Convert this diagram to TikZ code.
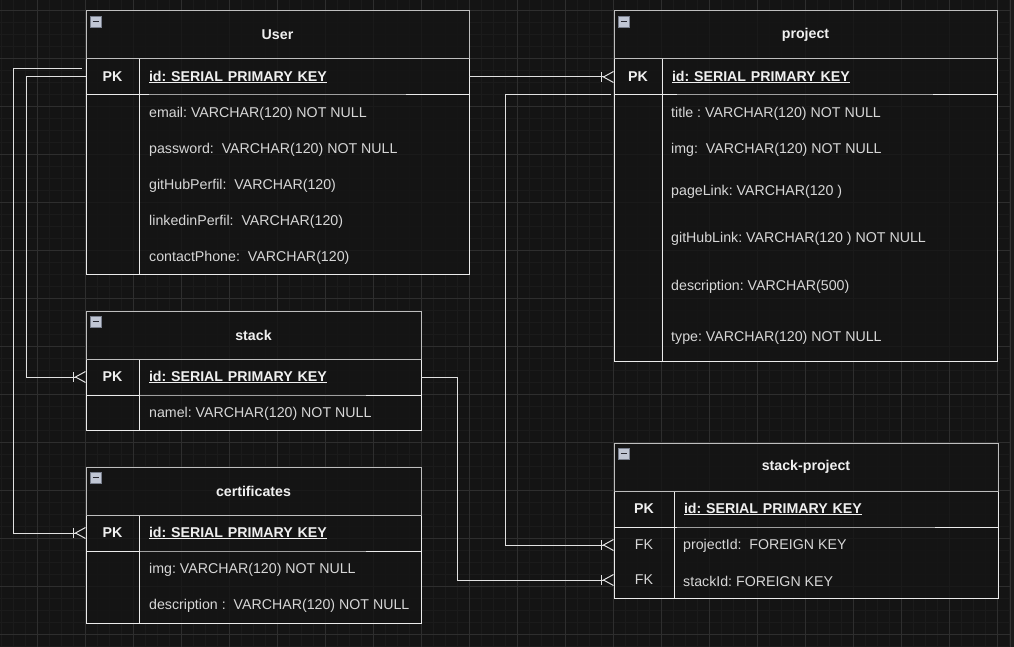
\documentclass[tikz,border=0pt]{standalone}
\usepackage{fontspec}
\setmainfont{Liberation Sans}
\usetikzlibrary{arrows.meta, positioning}
\definecolor{cBg}{RGB}{20, 20, 20}
\definecolor{cGridMinor}{RGB}{27, 27, 27}
\definecolor{cGridMajor}{RGB}{46, 46, 46}
\definecolor{cEdge}{RGB}{52, 52, 52}
\definecolor{cHeadDraw}{RGB}{190, 190, 190}
\definecolor{cRowDraw}{RGB}{235, 235, 235}
\definecolor{cSepGray}{RGB}{160, 160, 160}
\definecolor{cTitle}{RGB}{240, 240, 240}
\definecolor{cText}{RGB}{215, 215, 215}
\definecolor{cLine}{RGB}{225, 225, 225}
\definecolor{cIconFill}{RGB}{192, 198, 212}
\definecolor{cIconDraw}{RGB}{120, 126, 140}
\definecolor{cIconDash}{RGB}{40, 40, 48}
\newcommand\erFont{\fontsize{14.2pt}{17pt}\selectfont\frenchspacing}
\tikzset{
    % --- table parts ---
    erCell/.style={
        rectangle, draw=cRowDraw, line width=1pt,
        fill=cBg, fill opacity=0.75, text opacity=1,
        minimum height=36pt, inner sep=0pt, outer sep=0pt, anchor=north west
    },
    erHead/.style={
        erCell, draw=cHeadDraw, minimum height=48pt,
        font=\erFont\bfseries, text=cTitle
    },
    keyCell/.style={erCell, font=\erFont\bfseries, text=cTitle},
    idCell/.style={erCell, font=\erFont\bfseries, text=cTitle, align=left, inner xsep=10pt},
    bodyCell/.style={erCell},
    fieldTxt/.style={anchor=west, inner sep=0pt, yshift=-2pt, text=cText, font=\erFont},
    fkTxt/.style={inner sep=0pt, text=cText, font=\erFont},
    pkSep/.style={draw=cSepGray, line width=1pt},
    % --- connectors ---
    relLine/.style={
        draw=cLine, line width=1pt,
        -{Bar[width=10pt] Straight Barb[reversed, length=10pt, width=11pt]}
    },
    % --- collapse icon ---
    minIcon/.pic={
        \draw[draw=cIconDraw, fill=cIconFill] (4,5) rectangle (15,16);
        \draw[cIconDash, line width=1.5pt] (6.5,10.5) -- (12.5,10.5);
    }
}

\begin{document}
\begin{tikzpicture}[x=1pt, y=-1pt]

    % background and grid
    \useasboundingbox (0,0) rectangle (1014,647);
    \fill[cBg] (0,0) rectangle (1014,647);
    \foreach \gx in {1,13,...,1013} \draw[cGridMinor] (\gx,0) -- (\gx,647);
    \foreach \gy in {10,22,...,646} \draw[cGridMinor] (0,\gy) -- (1014,\gy);
    \foreach \gx in {37,85,...,997} \draw[cGridMajor] (\gx,0) -- (\gx,647);
    \foreach \gy in {10,58,...,634} \draw[cGridMajor] (0,\gy) -- (1014,\gy);
    \fill[cGridMinor] (1010,0) rectangle (1014,647);
    \draw[cEdge] (1010.5,0) -- (1010.5,647);

    % User
    \node[keyCell, minimum width=53pt] (userPK) at (86,59) {PK};
    \node[idCell, text width=310pt, right=0pt of userPK] (userId) {\underline{id: SERIAL PRIMARY KEY}};
    \node[bodyCell, minimum width=53pt, minimum height=179pt, below=0pt of userPK] (userKeys) {};
    \node[bodyCell, minimum width=330pt, minimum height=179pt, right=0pt of userKeys] (userBody) {};
    \node[erHead, minimum width=383pt, above right=0pt and 0pt of userPK.north west] (user) {User};
    \pic at (user.north west) {minIcon};
    \node[fieldTxt] (userEmail) at (149,112) {email: VARCHAR(120) NOT NULL};
    \node[fieldTxt] (userPass) at (149,148) {password:\ \ VARCHAR(120) NOT NULL};
    \node[fieldTxt] (userGit) at (149,184) {gitHubPerfil:\ \ VARCHAR(120)};
    \node[fieldTxt] (userLinked) at (149,220) {linkedinPerfil:\ \ VARCHAR(120)};
    \node[fieldTxt] (userPhone) at (149,256) {contactPhone:\ \ VARCHAR(120)};
    \draw[pkSep] ([xshift=10pt]userId.south west) -- ++(257,0);

    % project
    \node[keyCell, minimum width=48pt] (projPK) at (614,59) {PK};
    \node[idCell, text width=315pt, right=0pt of projPK] (projId) {\underline{id: SERIAL PRIMARY KEY}};
    \node[bodyCell, minimum width=48pt, minimum height=266pt, below=0pt of projPK] (projKeys) {};
    \node[bodyCell, minimum width=335pt, minimum height=266pt, right=0pt of projKeys] (projBody) {};
    \node[erHead, minimum width=383pt, above right=0pt and 0pt of projPK.north west] (project) {project};
    \pic at (project.north west) {minIcon};
    \node[fieldTxt] (projTitle) at (671,112) {title : VARCHAR(120) NOT NULL};
    \node[fieldTxt] (projImg) at (671,148) {img:\ \ VARCHAR(120) NOT NULL};
    \node[fieldTxt] (projPage) at (671,190) {pageLink: VARCHAR(120 )};
    \node[fieldTxt] (projGit) at (671,237) {gitHubLink: VARCHAR(120 ) NOT NULL};
    \node[fieldTxt] (projDesc) at (671,285) {description: VARCHAR(500)};
    \node[fieldTxt] (projType) at (671,336) {type: VARCHAR(120) NOT NULL};
    \draw[pkSep] ([xshift=15pt]projId.south west) -- ++(256,0);

    % stack
    \node[keyCell, minimum width=53pt] (stackPK) at (86,359) {PK};
    \node[idCell, text width=262pt, right=0pt of stackPK] (stackId) {\underline{id: SERIAL PRIMARY KEY}};
    \node[bodyCell, minimum width=53pt, minimum height=35pt, below=0pt of stackPK] (stackKeys) {};
    \node[bodyCell, minimum width=282pt, minimum height=35pt, right=0pt of stackKeys] (stackBody) {};
    \node[erHead, minimum width=335pt, above right=0pt and 0pt of stackPK.north west] (stack) {stack};
    \pic at (stack.north west) {minIcon};
    \node[fieldTxt] (stackName) at (149,412) {namel: VARCHAR(120) NOT NULL};
    \draw[pkSep] ([xshift=1pt]stackId.south west) -- ++(226,0);

    % certificates
    \node[keyCell, minimum width=53pt] (certPK) at (86,515) {PK};
    \node[idCell, text width=262pt, right=0pt of certPK] (certId) {\underline{id: SERIAL PRIMARY KEY}};
    \node[bodyCell, minimum width=53pt, minimum height=72pt, below=0pt of certPK] (certKeys) {};
    \node[bodyCell, minimum width=282pt, minimum height=72pt, right=0pt of certKeys] (certBody) {};
    \node[erHead, minimum width=335pt, above right=0pt and 0pt of certPK.north west] (certificates) {certificates};
    \pic at (certificates.north west) {minIcon};
    \node[fieldTxt] (certImg) at (149,568) {img: VARCHAR(120) NOT NULL};
    \node[fieldTxt] (certDesc) at (149,604) {description :\ \ VARCHAR(120) NOT NULL};
    \draw[pkSep] ([xshift=1pt]certId.south west) -- ++(226,0);

    % stack-project
    \node[keyCell, minimum width=60pt] (spPK) at (614,491) {PK};
    \node[idCell, text width=304pt, right=0pt of spPK] (spId) {\underline{id: SERIAL PRIMARY KEY}};
    \node[bodyCell, minimum width=60pt, minimum height=71pt, below=0pt of spPK] (spKeys) {};
    \node[bodyCell, minimum width=324pt, minimum height=71pt, right=0pt of spKeys] (spBody) {};
    \node[erHead, minimum width=384pt, above right=0pt and 0pt of spPK.north west] (stackProject) {stack-project};
    \pic at (stackProject.north west) {minIcon};
    \node[fkTxt] (spFK1) at (644,545) {FK};
    \node[fkTxt] (spFK2) at (644,580) {FK};
    \node[fieldTxt] (spProjId) at (683,544) {projectId:\ \ FOREIGN KEY};
    \node[fieldTxt] (spStackId) at (683,579) {stackId: FOREIGN KEY};
    \draw[pkSep] ([xshift=3pt]spId.south west) -- ++(258,0);

    % relations
    \draw[relLine] ([shift={(-4,-8)}]userPK.west) -- ++(-69,0) |- (certPK.west);
    \draw[relLine] (userPK.west) -- ++(-60,0) |- (stackPK.west);
    \draw[relLine] (userId.east) -- (projPK.west);
    \draw[relLine] ([xshift=-3pt]projKeys.north west) -- ++(-106,0) |- (spKeys.west |- spFK1);
    \draw[relLine] (stackId.east) -- ++(36,0) |- (spKeys.west |- spFK2);

\end{tikzpicture}
\end{document}
